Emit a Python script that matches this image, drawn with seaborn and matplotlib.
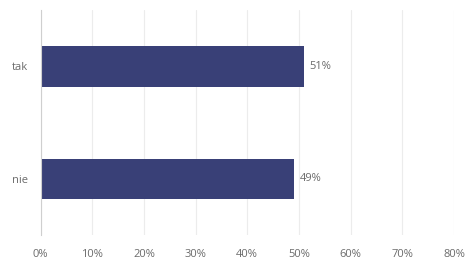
import matplotlib
matplotlib.use("Agg")
import matplotlib.pyplot as plt
import seaborn as sns
import pandas as pd
from matplotlib.ticker import FuncFormatter

categories = ["tak", "nie"]
values = [51, 49]
xticks = [0, 10, 20, 30, 40, 50, 60, 70, 80]

sns.set_theme(style="white")
plt.rcParams['font.family'] = ['Open Sans', 'DejaVu Sans']

df = pd.DataFrame({"cat": categories, "val": values})

fig = plt.figure(figsize=(4.71, 2.65), dpi=100)
ax = fig.add_axes([40.5/471, 1-235/265, (454-40.5)/471, 225/265])
sns.barplot(data=df, x="val", y="cat", orient="h", color="#394077",
            saturation=1, width=0.36, linewidth=0, ax=ax)
ax.set_xlim(0, 80)
ax.set_ylim(1.5, -0.5)
ax.set_xticks(xticks)
ax.xaxis.set_major_formatter(FuncFormatter(lambda v, p: f"{int(v)}%"))
ax.grid(axis="x", color="#ececec", linewidth=0.8)
ax.set_axisbelow(True)
for s in ["top", "right", "bottom"]:
    ax.spines[s].set_visible(False)
ax.spines["left"].set_color("#cfcfcf")
ax.spines["left"].set_linewidth(0.8)
ax.set_xlabel("")
ax.set_ylabel("")
ax.tick_params(axis="x", length=0, pad=10, labelsize=8, labelcolor="#6b6b6b")
ax.tick_params(axis="y", length=0, pad=9, labelsize=8, labelcolor="#6b6b6b")
for p, v in zip(ax.patches, values):
    ax.text(p.get_width() + 1.1, p.get_y() + p.get_height()/2, f"{v}%",
            va="center", ha="left", fontsize=8, color="#6b6b6b")
fig.savefig("out.png", dpi=100)
